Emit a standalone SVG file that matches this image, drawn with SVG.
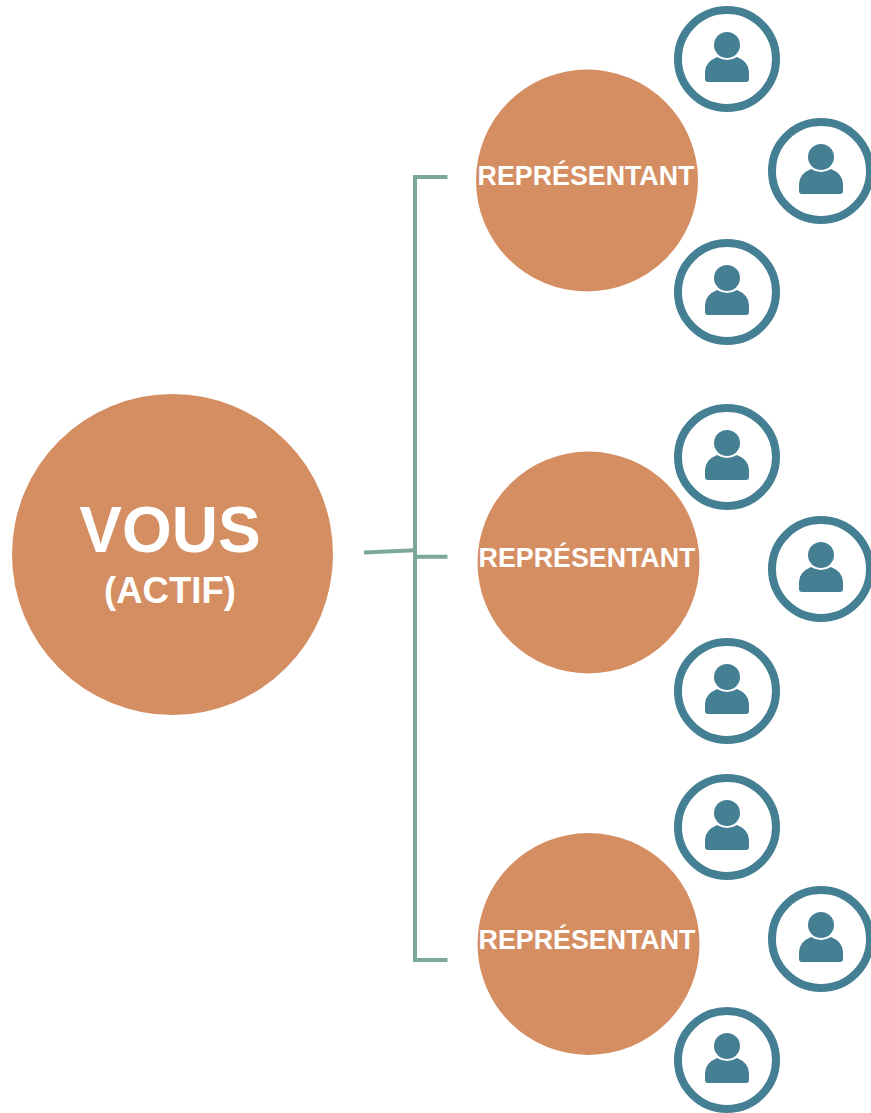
<svg xmlns="http://www.w3.org/2000/svg" width="871" height="1113" viewBox="0 0 871 1113">
<defs>
<style>
.hub{fill:#d58e62}
.t{fill:#fff;font-family:"Liberation Sans",Arial,sans-serif;font-weight:700;text-anchor:middle}
.rep{font-size:26.800px}
.line{fill:none;stroke:#7aa99b;stroke-width:4}
.ring{fill:#fff;stroke:#457f94;stroke-width:8}
.ico{fill:#457f94}
</style>
<g id="person">
<circle class="ring" cx="0" cy="0" r="49"/>
<circle class="ico" cx="0" cy="-14" r="13"/>
<path class="ico" d="M-22 20Q-22 23 -19 23H19Q22 23 22 20V13Q22 3 10 -2Q5 1 0 1Q-5 1 -10 -2Q-22 3 -22 13Z"/>
</g>
</defs>
<rect width="871" height="1113" fill="#fff"/>
<g id="connectors">
<path class="line" d="M447.500 177H415V960H447.500"/>
<path class="line" d="M364 552.500L415 550.300"/>
<path class="line" d="M415 556.700H447.500"/>
</g>
<g id="vous"><circle class="hub" cx="172.500" cy="554.500" r="160.500"/>
<text class="t" x="170" y="552" font-size="64">VOUS</text>
<text class="t" x="170" y="603" font-size="36.500">(ACTIF)</text></g>
<g id="rep1"><circle class="hub" cx="587" cy="180.500" r="111"/><text class="t rep" x="586" y="185">REPRÉSENTANT</text></g>
<g id="rep2"><circle class="hub" cx="588.500" cy="562.500" r="111"/><text class="t rep" x="587" y="567">REPRÉSENTANT</text></g>
<g id="rep3"><circle class="hub" cx="588.500" cy="944" r="111"/><text class="t rep" x="587" y="949">REPRÉSENTANT</text></g>
<g id="p1"><use href="#person" x="727" y="59"/></g>
<g id="p2"><use href="#person" x="821" y="171"/></g>
<g id="p3"><use href="#person" x="727" y="292"/></g>
<g id="p4"><use href="#person" x="727" y="457"/></g>
<g id="p5"><use href="#person" x="821" y="569"/></g>
<g id="p6"><use href="#person" x="727" y="691"/></g>
<g id="p7"><use href="#person" x="727" y="827"/></g>
<g id="p8"><use href="#person" x="821" y="939"/></g>
<g id="p9"><use href="#person" x="727" y="1060"/></g>
</svg>
